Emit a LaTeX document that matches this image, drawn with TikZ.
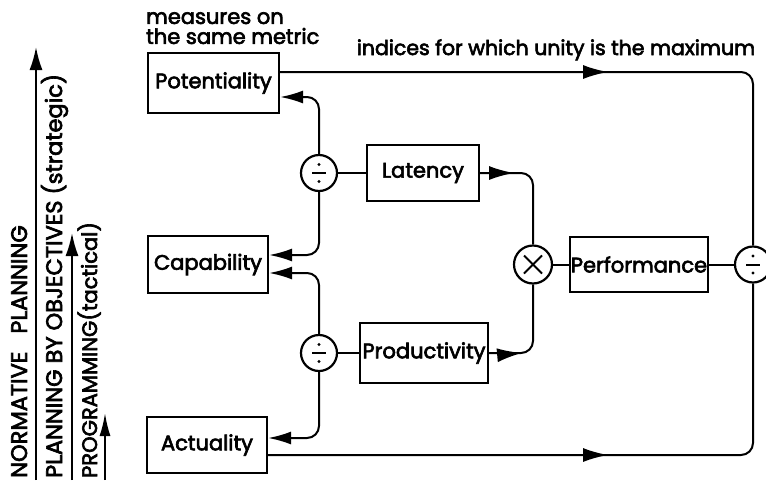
\documentclass[tikz,border=0pt]{standalone}
\usepackage{fontspec}
\setmainfont{Poppins}[FakeBold=3]
\usetikzlibrary{arrows.meta}
\usetikzlibrary{decorations.markings}
\tikzset{>={Latex[length=23pt,width=13pt]}}
\tikzstyle{block}=[draw,line width=2.2pt,minimum height=57pt,inner sep=1pt,font=\fontsize{21}{23}\selectfont]
\tikzstyle{op}=[draw,circle,line width=2.2pt,minimum size=36pt,inner sep=0pt]
\tikzstyle{divop}=[op,path picture={
  \draw[line width=2pt] ([xshift=-7pt]path picture bounding box.center) -- ([xshift=7pt]path picture bounding box.center);
  \fill ([yshift=8.5pt]path picture bounding box.center) circle (1.7pt);
  \fill ([yshift=-8.5pt]path picture bounding box.center) circle (1.7pt);}]
\tikzstyle{mulop}=[op,minimum size=38pt,path picture={
  \draw[line width=2pt] ([shift={(-9pt,-9pt)}]path picture bounding box.center) -- ([shift={(9pt,9pt)}]path picture bounding box.center);
  \draw[line width=2pt] ([shift={(-9pt,9pt)}]path picture bounding box.center) -- ([shift={(9pt,-9pt)}]path picture bounding box.center);}]
\tikzstyle{wire}=[line width=2pt,rounded corners=12pt]
\tikzstyle{vlabel}=[rotate=90,anchor=base west,inner sep=0pt,font=\fontsize{22.5}{24}\selectfont]
\tikzset{midarrow/.style={postaction={decorate},
  decoration={markings,mark=at position #1 with {\arrow{Latex[length=25pt,width=14pt]}}}}}

\begin{document}
\begin{tikzpicture}[x=1pt,y=-1pt]
  \useasboundingbox (0,0) rectangle (766,480);
  % planning levels
  \node[vlabel] (norm) at (27,478) {NORMATIVE\hspace{18pt}PLANNING};
  \node[vlabel] (obj) at (62,478) {PLANNING BY OBJECTIVES (strategic)};
  \node[vlabel,font=\fontsize{21}{23}\selectfont] (prog) at (97,478) {PROGRAMMING(tactical)};
  \foreach \x/\t/\w in {36/47/13,72/233/13,105/413/11}{
    \coordinate (lo\x) at (\x,480);
    \coordinate (hi\x) at (\x,\t);
    \draw[line width=2pt,-{Latex[length=23pt,width=\w pt]}] (lo\x) -- (hi\x);
  }
  % blocks
  \node[block,minimum width=131pt,minimum height=60pt] (pot) at (213.5,83) {Potentiality};
  \node[block,minimum width=120pt] (cap) at (208,264.5) {Capability};
  \node[block,minimum width=120pt,minimum height=56pt] (act) at (207,445) {Actuality};
  \node[block,minimum width=112pt,minimum height=56pt] (lat) at (423,173) {Latency};
  \node[block,minimum width=128pt,minimum height=60pt] (prod) at (424,353) {Productivity};
  \node[block,minimum width=132pt,minimum height=55pt] (perf) at (639,264.5) {Performance};
  \node[divop] (divA) at (319,173) {};
  \node[divop] (divB) at (319,353) {};
  \node[mulop] (mul) at (533,264.5) {};
  \node[divop] (divC) at (753,264.5) {};
  % captions
  \node[anchor=north west,align=left,inner sep=0pt,font=\fontsize{21}{20}\selectfont]
    (metric) at (146,12) {measures on\\the same metric};
  \node[anchor=base,inner sep=0pt,font=\fontsize{20.5}{22}\selectfont]
    (unity) at (556,55) {indices for which unity is the maximum};
  % connectors
  \draw[wire,->] (divA.north) |- ([yshift=-14pt]pot.east);
  \draw[wire,->] (divA.south) |- ([yshift=9.5pt]cap.east);
  \draw[wire,->] (divB.north) |- ([yshift=-8.5pt]cap.east);
  \draw[wire,->] (divB.south) |- ([yshift=7pt]act.east);
  \draw[wire] (divA) -- (lat);
  \draw[wire] (divB) -- (prod);
  \draw[wire,midarrow=34pt] (lat.east) -| (mul.north);
  \draw[wire,midarrow=33pt] (prod.east) -| (mul.south);
  \draw[wire] (mul) -- (perf);
  \draw[wire] (perf) -- (divC);
  \draw[wire,midarrow=328pt] ([yshift=11pt]pot.east) -| (divC.north);
  \draw[wire,midarrow=340pt] ([yshift=-10pt]act.east) -| (divC.south);
\end{tikzpicture}
\end{document}
